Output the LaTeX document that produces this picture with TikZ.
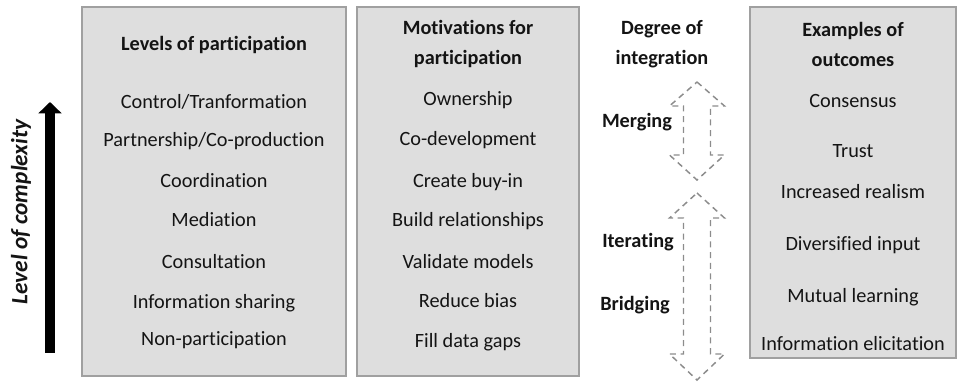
\documentclass[tikz,border=0pt]{standalone}
\usepackage{fontspec}
\setmainfont{Carlito}[Ligatures=NoCommon]
\usepackage{tikz}
\usetikzlibrary{arrows.meta}
\definecolor{boxfill}{RGB}{222,222,222}
\definecolor{boxline}{RGB}{160,160,160}
\definecolor{dashline}{RGB}{140,140,140}

\begin{document}
\begin{tikzpicture}[x=0.75pt, y=-0.75pt,
    panel/.style = {fill=boxfill, draw=boxline, line width=1.2pt},
    voce/.style = {font=\fontsize{15.2}{18}\selectfont, text=black!92, inner sep=0pt, anchor=base},
    titolo/.style = {voce, font=\fontsize{15.2}{22.5}\selectfont\bfseries, align=center},
    doppia/.style = {draw=dashline, line width=1.1pt, dash pattern=on 4.5pt off 3.5pt, line join=miter}]
    % Parametri
    \pgfmathsetmacro{\xc}{697}
    \pgfmathsetmacro{\sw}{13.5}
    \pgfmathsetmacro{\hw}{27.5}
    \pgfmathsetmacro{\dy}{6}
    \useasboundingbox (0,0) rectangle (958,384);

    % Riquadri
    \draw[panel] (82,7) rectangle (346,376);
    \draw[panel] (357,7) rectangle (579,376);
    \draw[panel] (750,7) rectangle (956,358);

    % Livello di complessita
    \coordinate (cbase) at (50,353);
    \coordinate (ctip) at (50,102);
    \draw[line width=7.8pt, -{Triangle[width=17pt, length=8.5pt]}] (cbase) -- (ctip);
    \node[voce, anchor=center, font=\fontsize{17.5}{18}\selectfont\bfseries\itshape, rotate=90] (compl) at (21,212) {Level of complexity};

    % Livelli di partecipazione
    \node[titolo] (liv) at (214,{45+\dy}) {Levels of participation};
    \foreach \y/\t [count=\i] in {103/{Control/Tranformation}, 141/{Partnership/Co-production}, 182/Coordination,
        221/Mediation, 263/Consultation, 303/Information sharing, 340/Non-participation}
        \node[voce] (liv\i) at (214,{\y+\dy}) {\t};

    % Motivazioni
    \node[titolo, anchor=center] (mot) at (468,44) {Motivations for\\participation};
    \foreach \y/\t [count=\i] in {100/Ownership, 140/Co-development, 182/Create buy-in, 221/Build relationships,
        263/Validate models, 302/Reduce bias, 342/Fill data gaps}
        \node[voce] (mot\i) at (468,{\y+\dy}) {\t};

    % Grado di integrazione
    \node[titolo, anchor=center] (grado) at (662,44) {Degree of\\integration};
    \node[titolo] (merg) at (637,{122+\dy}) {Merging};
    \node[titolo] (iter) at (638,{242+\dy}) {Iterating};
    \node[titolo] (brid) at (635,{305+\dy}) {Bridging};
    \draw[doppia] (\xc,82) -- ({\xc+\hw},106) -- ({\xc+\sw},106) -- ({\xc+\sw},155) -- ({\xc+\hw},155)
        -- (\xc,180) -- ({\xc-\hw},155) -- ({\xc-\sw},155) -- ({\xc-\sw},106) -- ({\xc-\hw},106) -- cycle;
    \draw[doppia] (\xc,193) -- ({\xc+\hw},218) -- ({\xc+\sw},218) -- ({\xc+\sw},354) -- ({\xc+\hw},354)
        -- (\xc,380) -- ({\xc-\hw},354) -- ({\xc-\sw},354) -- ({\xc-\sw},218) -- ({\xc-\hw},218) -- cycle;

    % Esempi di risultati
    \node[titolo, anchor=center] (ris) at (853,44) {Examples of\\outcomes};
    \foreach \y/\t [count=\i] in {102/Consensus, 152/Trust, 193/Increased realism, 245/Diversified input,
        297/Mutual learning, 345/Information elicitation}
        \node[voce] (ris\i) at (853,{\y+\dy}) {\t};
\end{tikzpicture}
\end{document}
